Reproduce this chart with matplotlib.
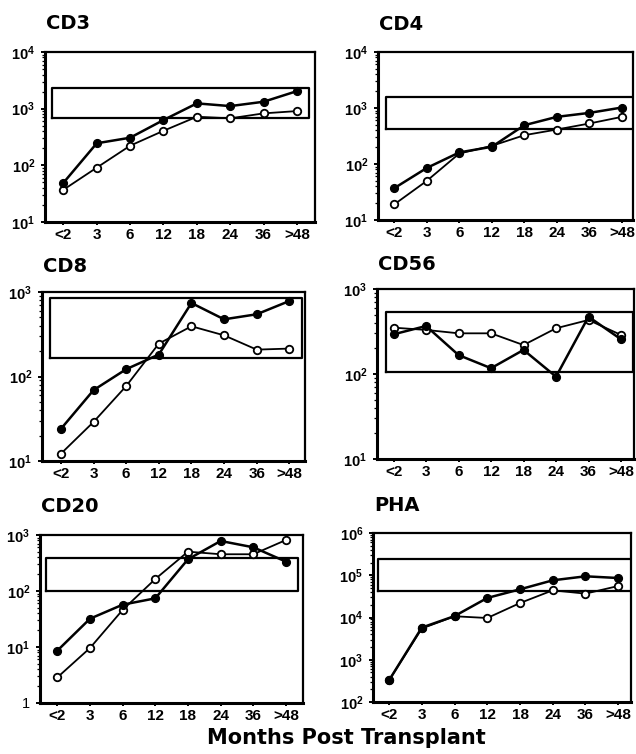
import matplotlib
matplotlib.use("Agg")
import matplotlib.pyplot as plt
import numpy as np

plt.rcParams['font.family'] = ['Liberation Sans', 'DejaVu Sans']
plt.rcParams['mathtext.fontset'] = 'custom'
plt.rcParams['mathtext.rm'] = 'Liberation Sans:bold'
plt.rcParams['mathtext.bf'] = 'Liberation Sans:bold'
plt.rcParams['mathtext.it'] = 'Liberation Sans:bold'

months = ["<2", "3", "6", "12", "18", "24", "36", ">48"]

panels = ["CD3", "CD4", "CD8", "CD56", "CD20", "PHA"]

# filled-circle series
cd3_filled = [49, 245, 307, 630, 1240, 1110, 1325, 2040]
cd4_filled = [37, 85, 161, 203, 493, 695, 818, 1020]
cd8_filled = [24, 69, 122, 182, 741, 475, 545, 782]
cd56_filled = [293, 367, 167, 117, 192, 93, 472, 256]
cd20_filled = [8.6, 32, 57, 74, 369, 782, 603, 334]
pha_filled = [326, 5770, 10800, 29000, 46500, 75900, 94400, 86000]

# open-circle series
cd3_open = [37, 91, 222, 407, 720, 675, 826, 907]
cd4_open = [19, 50, 154, 211, 327, 413, 529, 695]
cd8_open = [12.2, 29, 77, 245, 393, 307, 208, 214]
cd56_open = [351, 330, 301, 301, 219, 345, 432, 288]
cd20_open = [2.86, 9.6, 46, 164, 504, 453, 453, 815]
pha_open = [326, 5500, 10700, 9730, 22000, 44000, 36700, 55700]

# normal range (low, high)
normal_low = [680, 430, 166, 106, 102, 42400]
normal_high = [2300, 1580, 858, 541, 385, 238000]

filled = [cd3_filled, cd4_filled, cd8_filled, cd56_filled, cd20_filled, pha_filled]
opened = [cd3_open, cd4_open, cd8_open, cd56_open, cd20_open, pha_open]

# y-axis decades shown on each panel
ydecades = [(1, 4), (1, 4), (1, 3), (1, 3), (0, 3), (2, 6)]

# axes rectangles in pixels: left, right, top, bottom
rects = [(45, 315, 52, 222), (378, 633, 52, 220),
         (42, 305, 292, 461), (377, 634, 289, 459),
         (40, 303, 535, 703), (373, 631, 533, 702)]
title_base = [29, 30, 272, 270, 512, 511]
xlims = [(-0.55, 7.54), (-0.50, 7.34), (-0.58, 7.48),
         (-0.51, 7.40), (-0.53, 7.52), (-0.49, 7.39)]
box_x = [(-0.34, 7.36), (-0.26, 7.40), (-0.34, 7.38),
         (-0.24, 7.37), (-0.36, 7.38), (-0.35, 7.45)]

W, H = 636, 754
fig = plt.figure(figsize=(W / 100, H / 100), dpi=100)

x = np.arange(len(months))
for i, name in enumerate(panels):
    l, r, t, b = rects[i]
    ax = fig.add_axes([l / W, 1 - b / H, (r - l) / W, (b - t) / H])
    ax.set_yscale('log')
    lo, hi = ydecades[i]
    ax.set_ylim(10.0 ** lo, 10.0 ** hi)
    ax.set_xlim(*xlims[i])

    x0, x1 = box_x[i]
    ax.plot([x0, x1, x1, x0, x0],
            [normal_low[i], normal_low[i], normal_high[i], normal_high[i], normal_low[i]],
            color='black', lw=1.6, zorder=2, clip_on=True)

    ax.plot(x, filled[i], color='black', lw=1.8, marker='o', ms=5.6,
            mfc='black', mec='black', zorder=4)
    ax.plot(x, opened[i], color='black', lw=1.3, marker='o', ms=5.4,
            mfc='white', mec='black', mew=1.3, zorder=3)

    ticks = [10.0 ** k for k in range(lo, hi + 1)]
    labels = ['1' if k == 0 else r'$10^{%d}$' % k for k in range(lo, hi + 1)]
    ax.set_yticks(ticks)
    ax.set_yticklabels(labels, fontsize=10.5)
    ax.yaxis.set_minor_locator(matplotlib.ticker.LogLocator(base=10, subs=np.arange(2, 10)))
    ax.yaxis.set_minor_formatter(matplotlib.ticker.NullFormatter())
    ax.tick_params(axis='y', which='major', length=3, width=1.4, pad=4)
    ax.tick_params(axis='y', which='minor', length=2.2, width=0.9)

    ax.set_xticks(x)
    ax.set_xticklabels(months, fontsize=11, fontweight='bold')
    ax.tick_params(axis='x', length=2.5, width=1.4, pad=2)

    for side in ['left', 'bottom']:
        ax.spines[side].set_linewidth(2.2)
    for side in ['top', 'right']:
        ax.spines[side].set_linewidth(1.6)

    fig.text((l + 1) / W, 1 - title_base[i] / H, name, family='DejaVu Sans',
             fontsize=14, fontweight='bold', ha='left', va='baseline')

fig.text(346 / W, 1 - 738 / H, 'Months Post Transplant', family='DejaVu Sans',
         fontsize=15, fontweight='bold', ha='center', va='center')

fig.savefig('out.png', dpi=100)
